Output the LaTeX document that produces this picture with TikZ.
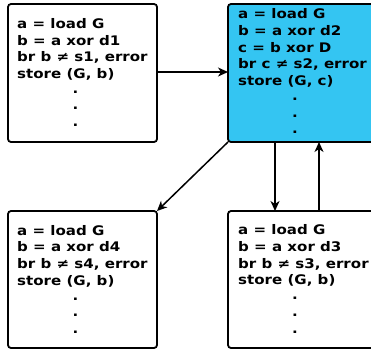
\documentclass[tikz,border=0pt]{standalone}
\usepackage{fontspec}
\setmainfont{DejaVu Sans}
\usetikzlibrary{arrows.meta}
\definecolor{hot}{RGB}{52,197,242}
% wide bold listing: rows 16.7pt apart, glyphs stretched sideways
\newcommand{\listing}[1]{\scalebox{1.14}[1]{\begin{tabular}{@{}l@{}}#1\end{tabular}}}
\newcommand{\nequ}{≠ }
\begin{document}
\begin{tikzpicture}[x=1pt,y=-1pt,
  blk/.style={draw=black, line width=1.8pt, rounded corners=3pt,
    minimum width=149pt, inner sep=0pt, outer sep=0pt},
  code/.style={anchor=north west, inner sep=0pt,
    font=\fontsize{13.2}{16.7}\selectfont\bfseries},
  dot/.style={inner sep=0pt, font=\fontsize{13.2}{16.7}\selectfont\bfseries, xscale=1.14},
  arr/.style={line width=1.5pt, -{Stealth[length=10pt,width=9pt,inset=3pt]}}]
\useasboundingbox (0,0) rectangle (371,349);

% blocks
\node[blk, minimum height=138pt] (b1) at (82.5,73) {};
\node[blk, minimum height=138pt, fill=hot] (b2) at (302.5,73) {};
\node[blk, minimum height=137pt] (b3) at (82.5,279.5) {};
\node[blk, minimum height=137pt] (b4) at (302.5,279.5) {};

% code listings
\node[code] (t1) at (17,16.6) {\listing{a = load G\\ b = a xor d1\\ br b \nequ s1, error\\ store (G, b)}};
\node[code] (t2) at (238,6.8) {\listing{a = load G\\ b = a xor d2\\ c = b xor D\\ br c \nequ s2, error\\ store (G, c)}};
\node[code] (t3) at (17,223.3) {\listing{a = load G\\ b = a xor d4\\ br b \nequ s4, error\\ store (G, b)}};
\node[code] (t4) at (238,222.8) {\listing{a = load G\\ b = a xor d3\\ br b \nequ s3, error\\ store (G, b)}};

% ellipsis dots
\foreach \y [count=\i] in {92,108.5,125} \node[dot] (d1\i) at (75.5,\y) {.};
\foreach \y [count=\i] in {99,116,132} \node[dot] (d2\i) at (295,\y) {.};
\foreach \y [count=\i] in {299,315,332} \node[dot] (d3\i) at (75.5,\y) {.};
\foreach \y [count=\i] in {298,315,332} \node[dot] (d4\i) at (295,\y) {.};

% control flow
\draw[arr] ([yshift=1pt]b1.east) -- ([yshift=1pt]b1.east -| b2.west);
\draw[arr] (b2.south west) -- (b3.north east);
\draw[arr] ([xshift=-27.5pt]b2.south) -- ([xshift=-27.5pt]b4.north);
\draw[arr] ([xshift=16.5pt]b4.north) -- ([xshift=16.5pt]b2.south);
\end{tikzpicture}
\end{document}
